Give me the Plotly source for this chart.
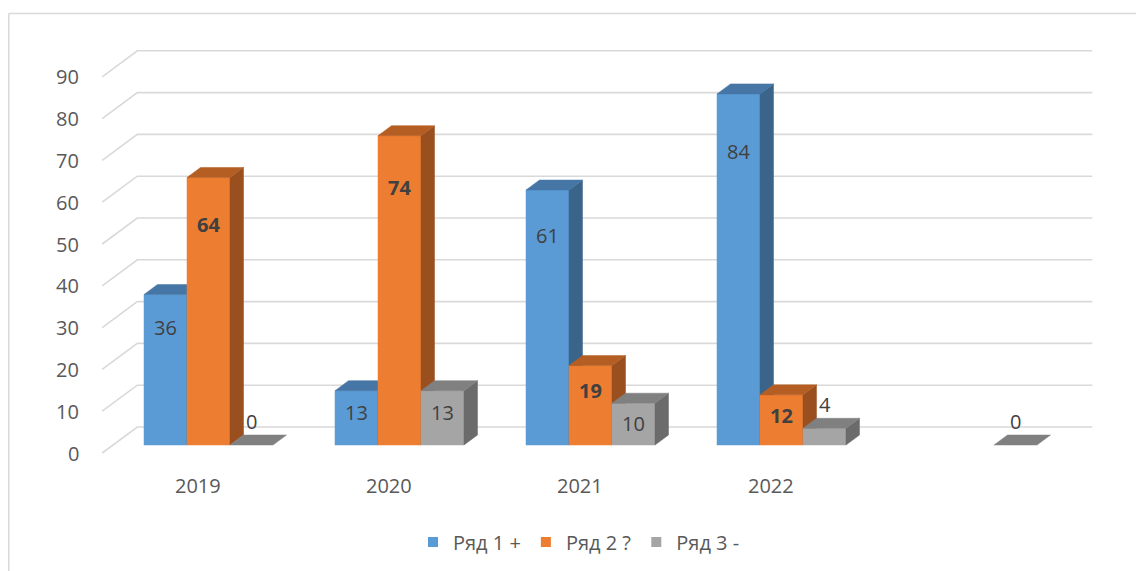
import plotly.graph_objects as go

# ---------------- data ----------------
categories = ["2019", "2020", "2021", "2022", ""]
series_names = ["Ряд 1 +", "Ряд 2 ?", "Ряд 3 -"]
row1 = [36, 13, 61, 84, None]
row2 = [64, 74, 19, 12, None]
row3 = [0, 13, 10, 4, 0]
y_ticks = [0, 10, 20, 30, 40, 50, 60, 70, 80, 90]

series_values = [row1, row2, row3]
bold_labels = [False, True, False]

# ---------------- styles / geometry ----------------
PAGE_W, PAGE_H = 1144, 571
OFF = 8                              # default page body margin
W, H = PAGE_W - OFF, PAGE_H - OFF    # figure size
PX_X = 191.0      # pixels per category
PX_Y = 4.18       # pixels per value unit
X0 = 208.5 - OFF  # pixel of first category centre (figure coords)
Y0 = 445.0 - OFF  # pixel of value 0 on the bar front plane
K = 1.35          # horizontal shift per pixel of depth
D_FRONT, D_BAR, D_WALL = -8.0, 10.0, 18.0
BAR_W = 43.0 / PX_X

front_cols = ["#5B9BD5", "#ED7D31", "#A5A5A5"]
top_cols = ["#4676A5", "#B45E23", "#808080"]
side_cols = ["#3A6489", "#9A4F1E", "#6B6B6B"]
GRID = "#D9D9D9"
AXIS_TXT = "#595959"
LBL_TXT = "#404040"
FONT = "Open Sans"


def proj(x, v, d):
    """Shift a point (category units, value units) back by depth d (px)."""
    return x + K * d / PX_X, v + d / PX_Y


fig = go.Figure()

# ---------------- gridlines (side wall + back wall) ----------------
x_left, x_right = -0.5, 4.5
gx, gy = [], []
for t in y_ticks:
    a = proj(x_left, t, D_FRONT)
    b = proj(x_left, t, D_WALL)
    c = proj(x_right, t, D_WALL)
    gx += [a[0], b[0], c[0], None]
    gy += [a[1], b[1], c[1], None]
fig.add_trace(go.Scatter(x=gx, y=gy, mode="lines", line=dict(color=GRID, width=1.6),
                         hoverinfo="skip", showlegend=False))

# ---------------- bars (front / side / top faces) ----------------
annotations = []
for j, vals in enumerate(series_values):
    fx, fy, sx, sy, tx, ty = [], [], [], [], [], []
    for i, v in enumerate(vals):
        if v is None:
            continue
        xl = i - 1.5 * BAR_W + j * BAR_W
        xr = xl + BAR_W
        dx, dy = proj(0, 0, D_BAR)
        if v > 0:
            fx += [xl, xr, xr, xl, xl, None]
            fy += [0, 0, v, v, 0, None]
            sx += [xr, xr + dx, xr + dx, xr, xr, None]
            sy += [0, dy, v + dy, v, 0, None]
        tx += [xl, xr, xr + dx, xl + dx, xl, None]
        ty += [v, v, v + dy, v + dy, v, None]

        # data label
        hpx = v * PX_Y
        if hpx < 30:
            ly = v + 24.0 / PX_Y
        else:
            ly = v - (15.0 + 0.12 * hpx) / PX_Y
        txt = f"<b>{v}</b>" if bold_labels[j] else str(v)
        annotations.append(dict(x=(xl + xr) / 2, y=ly, text=txt, showarrow=False,
                                xanchor="center", yanchor="middle",
                                font=dict(family=FONT, size=20, color=LBL_TXT)))
    fig.add_trace(go.Scatter(x=fx, y=fy, fill="toself", fillcolor=front_cols[j], mode="lines",
                             line=dict(color=front_cols[j], width=0.5), hoverinfo="skip",
                             showlegend=False))
    fig.add_trace(go.Scatter(x=sx, y=sy, fill="toself", fillcolor=side_cols[j], mode="lines",
                             line=dict(color=side_cols[j], width=0.5), hoverinfo="skip",
                             showlegend=False))
    fig.add_trace(go.Scatter(x=tx, y=ty, fill="toself", fillcolor=top_cols[j], mode="lines",
                             line=dict(color=top_cols[j], width=0.5), hoverinfo="skip",
                             showlegend=False))

# legend entries
for j, name in enumerate(series_names):
    fig.add_trace(go.Scatter(x=[None], y=[None], mode="markers", name=name,
                             marker=dict(symbol="square", size=10, color=front_cols[j])))

# ---------------- axis labels ----------------
for t in y_ticks:
    px_, py_ = proj(x_left, t, D_FRONT)
    annotations.append(dict(x=px_, y=py_, text=str(t), showarrow=False, xanchor="right",
                            yanchor="middle", xshift=-21,
                            font=dict(family=FONT, size=20, color=AXIS_TXT)))
for i, c in enumerate(categories):
    if not c:
        continue
    px_, py_ = proj(i, 0, D_FRONT)
    annotations.append(dict(x=px_, y=py_, text=c, showarrow=False, xanchor="center",
                            yanchor="middle", yshift=-32,
                            font=dict(family=FONT, size=20, color=AXIS_TXT)))

# ---------------- chart-area border ----------------
bx = 0.75 / W
by = 1 - (13.5 - OFF) / H
shapes = [
    dict(type="line", xref="paper", yref="paper", x0=bx, x1=1.0, y0=by, y1=by,
         line=dict(color=GRID, width=1.5)),
    dict(type="line", xref="paper", yref="paper", x0=bx, x1=bx, y0=0, y1=by,
         line=dict(color=GRID, width=1.5)),
]

fig.update_layout(
    width=W, height=H,
    margin=dict(l=0, r=0, t=0, b=0, pad=0),
    paper_bgcolor="white", plot_bgcolor="white",
    xaxis=dict(range=[-X0 / PX_X, (W - X0) / PX_X], visible=False, fixedrange=True),
    yaxis=dict(range=[(Y0 - H) / PX_Y, Y0 / PX_Y], visible=False, fixedrange=True),
    showlegend=True,
    legend=dict(orientation="h", x=(579 - OFF) / W, xanchor="center",
                y=1 - (542 - OFF) / H, yanchor="middle",
                font=dict(family=FONT, size=20, color=AXIS_TXT), itemwidth=30,
                bgcolor="rgba(0,0,0,0)"),
    annotations=annotations,
    shapes=shapes,
)

fig.write_html("out.html")
